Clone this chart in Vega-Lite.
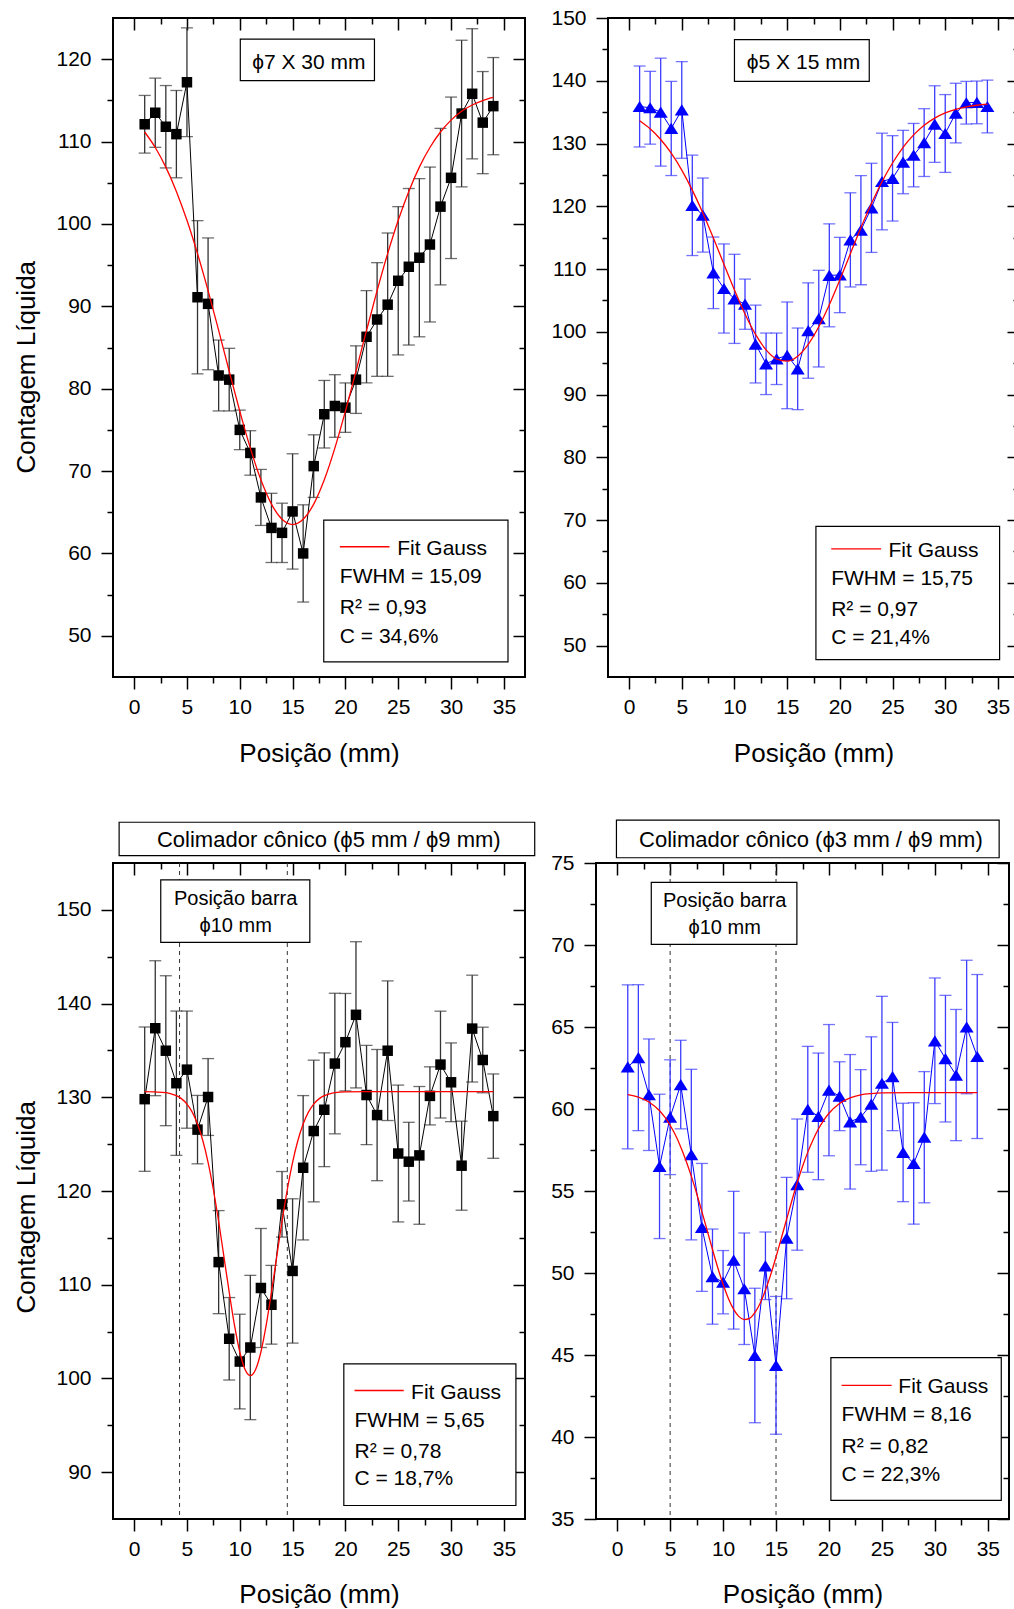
{
  "$schema": "https://vega.github.io/schema/vega-lite/v6.json",
  "padding": {"left": 12, "top": 6, "right": 0, "bottom": 0},
  "background": "white",
  "config": {
    "font": "Liberation Sans",
    "view": {"stroke": "#000", "strokeWidth": 2},
    "axis": {"labelFont": "Liberation Sans", "titleFont": "Liberation Sans", "labelFontSize": 21, "titleFontSize": 26, "titleFontWeight": "normal", "labelColor": "#000", "titleColor": "#000", "tickColor": "#000", "tickWidth": 1.5, "domain": false, "grid": false, "labelFlush": false, "labelOverlap": false},
    "text": {"font": "Liberation Sans"}
  },
  "datasets": {
    "tl": [{"x":1,"y":112.1,"e":3.5},{"x":2,"y":113.5,"e":4.2},{"x":3,"y":111.8,"e":5.0},{"x":4,"y":110.9,"e":5.3},{"x":5,"y":117.2,"e":6.6},{"x":6,"y":91.1,"e":9.3},{"x":7,"y":90.3,"e":8.0},{"x":8,"y":81.6,"e":4.3},{"x":9,"y":81.1,"e":3.8},{"x":10,"y":75.0,"e":2.4},{"x":11,"y":72.2,"e":2.7},{"x":12,"y":66.8,"e":3.4},{"x":13,"y":63.1,"e":4.2},{"x":14,"y":62.5,"e":3.6},{"x":15,"y":65.1,"e":7.0},{"x":16,"y":60.0,"e":5.9},{"x":17,"y":70.6,"e":3.8},{"x":18,"y":76.9,"e":4.1},{"x":19,"y":77.9,"e":3.8},{"x":20,"y":77.7,"e":3.0},{"x":21,"y":81.1,"e":4.1},{"x":22,"y":86.3,"e":5.6},{"x":23,"y":88.4,"e":6.9},{"x":24,"y":90.2,"e":8.7},{"x":25,"y":93.1,"e":9.0},{"x":26,"y":94.8,"e":9.5},{"x":27,"y":95.9,"e":9.6},{"x":28,"y":97.5,"e":9.4},{"x":29,"y":102.1,"e":9.5},{"x":30,"y":105.6,"e":9.8},{"x":31,"y":113.4,"e":8.9},{"x":32,"y":115.8,"e":7.9},{"x":33,"y":112.3,"e":6.2},{"x":34,"y":114.3,"e":5.9}],
    "tl_fit": [{"x":1,"y":111.16},{"x":2,"y":109.28},{"x":3,"y":106.9},{"x":4,"y":103.95},{"x":5,"y":100.44},{"x":6,"y":96.4},{"x":7,"y":91.9},{"x":8,"y":87.07},{"x":9,"y":82.12},{"x":10,"y":77.27},{"x":11,"y":72.78},{"x":12,"y":68.94},{"x":13,"y":65.99},{"x":14,"y":64.14},{"x":15,"y":63.5},{"x":16,"y":64.14},{"x":17,"y":65.99},{"x":18,"y":68.94},{"x":19,"y":72.78},{"x":20,"y":77.27},{"x":21,"y":82.12},{"x":22,"y":87.07},{"x":23,"y":91.9},{"x":24,"y":96.4},{"x":25,"y":100.44},{"x":26,"y":103.95},{"x":27,"y":106.9},{"x":28,"y":109.28},{"x":29,"y":111.16},{"x":30,"y":112.6},{"x":31,"y":113.67},{"x":32,"y":114.44},{"x":33,"y":114.98},{"x":34,"y":115.35}],
    "tl_box": [{"x1":10.05,"x2":22.75,"y1":117.4,"y2":122.43},{"x1":17.95,"x2":35.39,"y1":46.84,"y2":64.05}],
    "tl_leg": [{"x1":19.47,"x2":24.17,"y":60.81}],
    "tl_tc": [{"x":16.54,"y":118.8,"t":"ϕ7 X 30 mm"}],
    "tl_tl": [{"x":24.9,"y":59.8,"t":"Fit Gauss"},{"x":19.47,"y":56.36,"t":"FWHM = 15,09"},{"x":19.47,"y":52.6,"t":"R² = 0,93"},{"x":19.47,"y":49.15,"t":"C = 34,6%"}],
    "tr": [{"x":1,"y":135.9,"e":6.45},{"x":2,"y":135.7,"e":5.8},{"x":3,"y":135.0,"e":8.6},{"x":4,"y":132.4,"e":7.5},{"x":5,"y":135.35,"e":7.7},{"x":6,"y":120.15,"e":8.0},{"x":7,"y":118.6,"e":5.9},{"x":8,"y":109.4,"e":5.7},{"x":9,"y":106.9,"e":7.1},{"x":10,"y":105.25,"e":7.1},{"x":11,"y":104.4,"e":4.0},{"x":12,"y":98.05,"e":6.2},{"x":13,"y":94.9,"e":4.9},{"x":14,"y":95.7,"e":4.1},{"x":15,"y":96.25,"e":8.5},{"x":16,"y":94.1,"e":6.5},{"x":17,"y":100.2,"e":7.6},{"x":18,"y":102.1,"e":7.7},{"x":19,"y":109.0,"e":8.2},{"x":20,"y":109.05,"e":6.0},{"x":21,"y":114.65,"e":7.5},{"x":22,"y":116.2,"e":8.7},{"x":23,"y":119.75,"e":7.1},{"x":24,"y":123.95,"e":7.7},{"x":25,"y":124.45,"e":6.8},{"x":26,"y":127.05,"e":5.05},{"x":27,"y":128.15,"e":5.05},{"x":28,"y":130.15,"e":5.4},{"x":29,"y":133.1,"e":6.1},{"x":30,"y":131.6,"e":6.2},{"x":31,"y":134.85,"e":4.75},{"x":32,"y":136.5,"e":3.4},{"x":33,"y":136.55,"e":3.4},{"x":34,"y":135.9,"e":4.2}],
    "tr_fit": [{"x":1,"y":133.64},{"x":2,"y":132.35},{"x":3,"y":130.64},{"x":4,"y":128.46},{"x":5,"y":125.77},{"x":6,"y":122.57},{"x":7,"y":118.93},{"x":8,"y":114.94},{"x":9,"y":110.78},{"x":10,"y":106.66},{"x":11,"y":102.84},{"x":12,"y":99.58},{"x":13,"y":97.13},{"x":14,"y":95.67},{"x":15,"y":95.32},{"x":16,"y":96.12},{"x":17,"y":98.0},{"x":18,"y":100.8},{"x":19,"y":104.32},{"x":20,"y":108.29},{"x":21,"y":112.45},{"x":22,"y":116.57},{"x":23,"y":120.43},{"x":24,"y":123.91},{"x":25,"y":126.9},{"x":26,"y":129.39},{"x":27,"y":131.37},{"x":28,"y":132.91},{"x":29,"y":134.05},{"x":30,"y":134.88},{"x":31,"y":135.46},{"x":32,"y":135.85},{"x":33,"y":136.1},{"x":34,"y":136.27}],
    "tr_box": [{"x1":10.0,"x2":22.79,"y1":139.9,"y2":146.54},{"x1":17.73,"x2":35.16,"y1":47.77,"y2":69.0}],
    "tr_leg": [{"x1":19.18,"x2":23.92,"y":65.41}],
    "tr_tc": [{"x":16.55,"y":141.87,"t":"ϕ5 X 15 mm"}],
    "tr_tl": [{"x":24.62,"y":64.13,"t":"Fit Gauss"},{"x":19.18,"y":59.67,"t":"FWHM = 15,75"},{"x":19.18,"y":54.67,"t":"R² = 0,97"},{"x":19.18,"y":50.27,"t":"C = 21,4%"}],
    "bl": [{"x":1,"y":129.8,"e":7.7},{"x":2,"y":137.37,"e":7.2},{"x":3,"y":134.97,"e":8.0},{"x":4,"y":131.5,"e":7.7},{"x":5,"y":132.95,"e":6.25},{"x":6,"y":126.55,"e":3.65},{"x":7,"y":130.03,"e":4.1},{"x":8,"y":112.41,"e":5.5},{"x":9,"y":104.23,"e":4.4},{"x":10,"y":101.8,"e":5.05},{"x":11,"y":103.3,"e":7.7},{"x":12,"y":109.65,"e":6.35},{"x":13,"y":107.86,"e":4.2},{"x":14,"y":118.58,"e":3.5},{"x":15,"y":111.47,"e":7.7},{"x":16,"y":122.48,"e":7.7},{"x":17,"y":126.4,"e":7.56},{"x":18,"y":128.67,"e":6.07},{"x":19,"y":133.6,"e":7.5},{"x":20,"y":135.88,"e":5.2},{"x":21,"y":138.8,"e":7.8},{"x":22,"y":130.24,"e":5.3},{"x":23,"y":128.1,"e":7.0},{"x":24,"y":134.97,"e":7.45},{"x":25,"y":124.0,"e":7.3},{"x":26,"y":123.13,"e":4.2},{"x":27,"y":123.8,"e":7.35},{"x":28,"y":130.15,"e":3.1},{"x":29,"y":133.49,"e":5.7},{"x":30,"y":131.6,"e":4.2},{"x":31,"y":122.7,"e":4.75},{"x":32,"y":137.33,"e":5.7},{"x":33,"y":133.98,"e":3.5},{"x":34,"y":127.99,"e":4.5}],
    "bl_fit": [{"x":1,"y":130.6},{"x":2,"y":130.57},{"x":3,"y":130.49},{"x":3.5,"y":130.37},{"x":4,"y":130.17},{"x":4.5,"y":129.83},{"x":5,"y":129.28},{"x":5.5,"y":128.42},{"x":6,"y":127.15},{"x":6.5,"y":125.39},{"x":7,"y":123.06},{"x":7.5,"y":120.16},{"x":8,"y":116.75},{"x":8.5,"y":113.0},{"x":9,"y":109.2},{"x":9.5,"y":105.68},{"x":10,"y":102.82},{"x":10.5,"y":100.95},{"x":11,"y":100.3},{"x":11.5,"y":100.95},{"x":12,"y":102.82},{"x":12.5,"y":105.68},{"x":13,"y":109.2},{"x":13.5,"y":113.0},{"x":14,"y":116.75},{"x":14.5,"y":120.16},{"x":15,"y":123.06},{"x":15.5,"y":125.39},{"x":16,"y":127.15},{"x":16.5,"y":128.42},{"x":17,"y":129.28},{"x":17.5,"y":129.83},{"x":18,"y":130.17},{"x":18.5,"y":130.37},{"x":19,"y":130.49},{"x":20,"y":130.57},{"x":22,"y":130.6},{"x":26,"y":130.6},{"x":30,"y":130.6},{"x":34,"y":130.6}],
    "bl_dash": [{"x":4.3},{"x":14.5}],
    "bl_box": [{"x1":-1.42,"x2":37.92,"y1":155.79,"y2":159.35},{"x1":2.52,"x2":16.63,"y1":146.54,"y2":153.2},{"x1":19.85,"x2":36.14,"y1":86.44,"y2":101.56}],
    "bl_leg": [{"x1":20.86,"x2":25.52,"y":98.71}],
    "bl_title": [{"x":18.43,"y":156.68,"t":"Colimador cônico (ϕ5 mm / ϕ9 mm)"}],
    "bl_tc": [{"x":9.61,"y":150.57,"t":"Posição barra"},{"x":9.61,"y":147.61,"t":"ϕ10 mm"}],
    "bl_tl": [{"x":26.22,"y":97.83,"t":"Fit Gauss"},{"x":20.86,"y":94.87,"t":"FWHM = 5,65"},{"x":20.86,"y":91.53,"t":"R² = 0,78"},{"x":20.86,"y":88.58,"t":"C = 18,7%"}],
    "br": [{"x":1,"y":62.57,"e":5.0},{"x":2,"y":63.13,"e":4.45},{"x":3,"y":60.87,"e":3.4},{"x":4,"y":56.5,"e":4.4},{"x":5,"y":59.5,"e":3.5},{"x":6,"y":61.49,"e":2.7},{"x":7,"y":57.22,"e":5.2},{"x":8,"y":52.78,"e":3.9},{"x":9,"y":49.78,"e":2.9},{"x":10,"y":49.44,"e":1.93},{"x":11,"y":50.78,"e":4.2},{"x":12,"y":49.04,"e":3.4},{"x":13,"y":44.97,"e":4.1},{"x":14,"y":50.44,"e":2.06},{"x":15,"y":44.37,"e":4.2},{"x":16,"y":52.13,"e":3.7},{"x":17,"y":55.39,"e":4.0},{"x":18,"y":59.98,"e":3.84},{"x":19,"y":59.55,"e":3.86},{"x":20,"y":61.15,"e":4.0},{"x":21,"y":60.78,"e":2.1},{"x":22,"y":59.22,"e":4.1},{"x":23,"y":59.5,"e":2.9},{"x":24,"y":60.3,"e":4.1},{"x":25,"y":61.57,"e":5.3},{"x":26,"y":61.98,"e":3.3},{"x":27,"y":57.35,"e":3.0},{"x":28,"y":56.68,"e":3.7},{"x":29,"y":58.28,"e":4.0},{"x":30,"y":64.16,"e":3.83},{"x":31,"y":63.07,"e":3.86},{"x":32,"y":62.07,"e":4.0},{"x":33,"y":65.0,"e":4.07},{"x":34,"y":63.2,"e":5.0}],
    "br_fit": [{"x":1,"y":60.88},{"x":2,"y":60.73},{"x":3,"y":60.43},{"x":4,"y":59.89},{"x":4.5,"y":59.5},{"x":5,"y":59.01},{"x":5.5,"y":58.41},{"x":6,"y":57.69},{"x":6.5,"y":56.85},{"x":7,"y":55.91},{"x":7.5,"y":54.86},{"x":8,"y":53.74},{"x":8.5,"y":52.59},{"x":9,"y":51.43},{"x":9.5,"y":50.32},{"x":10,"y":49.31},{"x":10.5,"y":48.45},{"x":11,"y":47.78},{"x":11.5,"y":47.34},{"x":12,"y":47.16},{"x":12.5,"y":47.23},{"x":13,"y":47.58},{"x":13.5,"y":48.16},{"x":14,"y":48.95},{"x":14.5,"y":49.9},{"x":15,"y":50.98},{"x":15.5,"y":52.12},{"x":16,"y":53.28},{"x":16.5,"y":54.42},{"x":17,"y":55.5},{"x":17.5,"y":56.49},{"x":18,"y":57.37},{"x":18.5,"y":58.13},{"x":19,"y":58.78},{"x":19.5,"y":59.31},{"x":20,"y":59.74},{"x":21,"y":60.34},{"x":22,"y":60.68},{"x":23,"y":60.86},{"x":24,"y":60.94},{"x":25,"y":60.98},{"x":28,"y":61.0},{"x":31,"y":61.0},{"x":34,"y":61.0}],
    "br_dash": [{"x":5},{"x":15}],
    "br_box": [{"x1":-0.07,"x2":36.07,"y1":75.32,"y2":77.62},{"x1":3.22,"x2":16.97,"y1":70.04,"y2":73.82},{"x1":20.18,"x2":36.27,"y1":36.14,"y2":44.84}],
    "br_leg": [{"x1":21.19,"x2":25.92,"y":43.15}],
    "br_title": [{"x":18.29,"y":75.98,"t":"Colimador cônico (ϕ3 mm / ϕ9 mm)"}],
    "br_tc": [{"x":10.15,"y":72.32,"t":"Posição barra"},{"x":10.15,"y":70.65,"t":"ϕ10 mm"}],
    "br_tl": [{"x":26.55,"y":42.7,"t":"Fit Gauss"},{"x":21.19,"y":40.98,"t":"FWHM = 8,16"},{"x":21.19,"y":39.04,"t":"R² = 0,82"},{"x":21.19,"y":37.32,"t":"C = 22,3%"}]
  },
  "spacing": 51,
  "vconcat": [
    {
      "hconcat": [
        {
          "width": 412, "height": 659,
          "resolve": {"axis": {"x": "independent", "y": "independent"}},
          "layer": [
            {"data": {"name": "tl_box"}, "mark": {"type": "rect", "fill": "#fff", "stroke": "#000", "strokeWidth": 1.2},
             "encoding": {"x": {"field": "x1", "type": "quantitative", "scale": {"domain": [-2, 37], "nice": false, "zero": false}, "axis": {"orient": "top", "values": [2.5,7.5,12.5,17.5,22.5,27.5,32.5], "tickSize": -6, "labels": false, "title": null}},
                          "x2": {"field": "x2"},
                          "y": {"field": "y1", "type": "quantitative", "scale": {"domain": [45, 125], "nice": false, "zero": false}, "axis": {"orient": "right", "values": [55,65,75,85,95,105,115], "tickSize": -6, "labels": false, "title": null}},
                          "y2": {"field": "y2"}}},
            {"data": {"name": "tl"}, "mark": {"type": "errorbar", "orient": "vertical", "ticks": true, "size": 12, "thickness": 1.3, "color": "#333"},
             "encoding": {"x": {"field": "x", "type": "quantitative", "scale": {"domain": [-2, 37], "nice": false, "zero": false}, "axis": null},
                          "y": {"field": "y", "type": "quantitative", "scale": {"domain": [45, 125], "nice": false, "zero": false}, "axis": null},
                          "yError": {"field": "e"}}},
            {"data": {"name": "tl"}, "mark": {"type": "line", "color": "#000", "strokeWidth": 1},
             "encoding": {"x": {"field": "x", "type": "quantitative", "scale": {"domain": [-2, 37], "nice": false, "zero": false}, "axis": {"orient": "bottom", "values": [0,5,10,15,20,25,30,35], "tickSize": 12, "labelPadding": 7, "title": "Posição (mm)", "titleY": 84, "titleBaseline": "alphabetic"}},
                          "y": {"field": "y", "type": "quantitative", "scale": {"domain": [45, 125], "nice": false, "zero": false}, "axis": {"orient": "left", "values": [50,60,70,80,90,100,110,120], "tickSize": 12, "labelPadding": 10, "title": "Contagem Líquida", "titleX": -79, "titleY": 348.7, "titleAngle": -90, "titleBaseline": "alphabetic", "titleAlign": "center"}}}},
            {"data": {"name": "tl"}, "mark": {"type": "point", "shape": "square", "filled": true, "color": "#000", "size": 110, "opacity": 1},
             "encoding": {"x": {"field": "x", "type": "quantitative", "scale": {"domain": [-2, 37], "nice": false, "zero": false}, "axis": {"orient": "bottom", "values": [2.5,7.5,12.5,17.5,22.5,27.5,32.5], "tickSize": 6, "labels": false, "title": null}},
                          "y": {"field": "y", "type": "quantitative", "scale": {"domain": [45, 125], "nice": false, "zero": false}, "axis": {"orient": "left", "values": [55,65,75,85,95,105,115], "tickSize": 6, "labels": false, "title": null}}}},
            {"data": {"name": "tl_fit"}, "mark": {"type": "line", "color": "#ff0000", "strokeWidth": 1.3, "interpolate": "monotone"},
             "encoding": {"x": {"field": "x", "type": "quantitative", "scale": {"domain": [-2, 37], "nice": false, "zero": false}, "axis": {"orient": "top", "values": [0,5,10,15,20,25,30,35], "tickSize": -12, "labels": false, "title": null}},
                          "y": {"field": "y", "type": "quantitative", "scale": {"domain": [45, 125], "nice": false, "zero": false}, "axis": {"orient": "right", "values": [50,60,70,80,90,100,110,120], "tickSize": -12, "labels": false, "title": null}}}},
            {"data": {"name": "tl_leg"}, "mark": {"type": "rule", "color": "#ff0000", "strokeWidth": 1.3},
             "encoding": {"x": {"field": "x1", "type": "quantitative", "scale": {"domain": [-2, 37], "nice": false, "zero": false}, "axis": null}, "x2": {"field": "x2"},
                          "y": {"field": "y", "type": "quantitative", "scale": {"domain": [45, 125], "nice": false, "zero": false}, "axis": null}}},
            {"data": {"name": "tl_tc"}, "mark": {"type": "text", "align": "center", "baseline": "alphabetic", "fontSize": 21, "color": "#000"},
             "encoding": {"x": {"field": "x", "type": "quantitative", "scale": {"domain": [-2, 37], "nice": false, "zero": false}, "axis": null},
                          "y": {"field": "y", "type": "quantitative", "scale": {"domain": [45, 125], "nice": false, "zero": false}, "axis": null},
                          "text": {"field": "t"}}},
            {"data": {"name": "tl_tl"}, "mark": {"type": "text", "align": "left", "baseline": "alphabetic", "fontSize": 21, "color": "#000"},
             "encoding": {"x": {"field": "x", "type": "quantitative", "scale": {"domain": [-2, 37], "nice": false, "zero": false}, "axis": null},
                          "y": {"field": "y", "type": "quantitative", "scale": {"domain": [45, 125], "nice": false, "zero": false}, "axis": null},
                          "text": {"field": "t"}}}
          ]
        },
        {
          "width": 411, "height": 659,
          "resolve": {"axis": {"x": "independent", "y": "independent"}},
          "layer": [
            {"data": {"name": "tr_box"}, "mark": {"type": "rect", "fill": "#fff", "stroke": "#000", "strokeWidth": 1.2},
             "encoding": {"x": {"field": "x1", "type": "quantitative", "scale": {"domain": [-2, 37], "nice": false, "zero": false}, "axis": {"orient": "top", "values": [2.5,7.5,12.5,17.5,22.5,27.5,32.5], "tickSize": -6, "labels": false, "title": null}},
                          "x2": {"field": "x2"},
                          "y": {"field": "y1", "type": "quantitative", "scale": {"domain": [45, 150], "nice": false, "zero": false}, "axis": {"orient": "right", "values": [55,65,75,85,95,105,115,125,135,145], "tickSize": -6, "labels": false, "title": null}},
                          "y2": {"field": "y2"}}},
            {"data": {"name": "tr"}, "mark": {"type": "errorbar", "orient": "vertical", "ticks": true, "size": 12, "thickness": 1.3, "color": "#3c3cff"},
             "encoding": {"x": {"field": "x", "type": "quantitative", "scale": {"domain": [-2, 37], "nice": false, "zero": false}, "axis": null},
                          "y": {"field": "y", "type": "quantitative", "scale": {"domain": [45, 150], "nice": false, "zero": false}, "axis": null},
                          "yError": {"field": "e"}}},
            {"data": {"name": "tr"}, "mark": {"type": "line", "color": "#0000ff", "strokeWidth": 1},
             "encoding": {"x": {"field": "x", "type": "quantitative", "scale": {"domain": [-2, 37], "nice": false, "zero": false}, "axis": {"orient": "bottom", "values": [0,5,10,15,20,25,30,35], "tickSize": 12, "labelPadding": 7, "title": "Posição (mm)", "titleY": 84, "titleBaseline": "alphabetic"}},
                          "y": {"field": "y", "type": "quantitative", "scale": {"domain": [45, 150], "nice": false, "zero": false}, "axis": {"orient": "left", "values": [50,60,70,80,90,100,110,120,130,140,150], "tickSize": 12, "labelPadding": 10, "title": null}}}},
            {"data": {"name": "tr"}, "mark": {"type": "point", "shape": "M0,-0.8L1,0.8L-1,0.8Z", "filled": true, "color": "#0000ff", "size": 196, "opacity": 1},
             "encoding": {"x": {"field": "x", "type": "quantitative", "scale": {"domain": [-2, 37], "nice": false, "zero": false}, "axis": {"orient": "bottom", "values": [2.5,7.5,12.5,17.5,22.5,27.5,32.5], "tickSize": 6, "labels": false, "title": null}},
                          "y": {"field": "y", "type": "quantitative", "scale": {"domain": [45, 150], "nice": false, "zero": false}, "axis": {"orient": "left", "values": [55,65,75,85,95,105,115,125,135,145], "tickSize": 6, "labels": false, "title": null}}}},
            {"data": {"name": "tr_fit"}, "mark": {"type": "line", "color": "#ff0000", "strokeWidth": 1.3, "interpolate": "monotone"},
             "encoding": {"x": {"field": "x", "type": "quantitative", "scale": {"domain": [-2, 37], "nice": false, "zero": false}, "axis": {"orient": "top", "values": [0,5,10,15,20,25,30,35], "tickSize": -12, "labels": false, "title": null}},
                          "y": {"field": "y", "type": "quantitative", "scale": {"domain": [45, 150], "nice": false, "zero": false}, "axis": {"orient": "right", "values": [50,60,70,80,90,100,110,120,130,140,150], "tickSize": -12, "labels": false, "title": null}}}},
            {"data": {"name": "tr_leg"}, "mark": {"type": "rule", "color": "#ff0000", "strokeWidth": 1.3},
             "encoding": {"x": {"field": "x1", "type": "quantitative", "scale": {"domain": [-2, 37], "nice": false, "zero": false}, "axis": null}, "x2": {"field": "x2"},
                          "y": {"field": "y", "type": "quantitative", "scale": {"domain": [45, 150], "nice": false, "zero": false}, "axis": null}}},
            {"data": {"name": "tr_tc"}, "mark": {"type": "text", "align": "center", "baseline": "alphabetic", "fontSize": 21, "color": "#000"},
             "encoding": {"x": {"field": "x", "type": "quantitative", "scale": {"domain": [-2, 37], "nice": false, "zero": false}, "axis": null},
                          "y": {"field": "y", "type": "quantitative", "scale": {"domain": [45, 150], "nice": false, "zero": false}, "axis": null},
                          "text": {"field": "t"}}},
            {"data": {"name": "tr_tl"}, "mark": {"type": "text", "align": "left", "baseline": "alphabetic", "fontSize": 21, "color": "#000"},
             "encoding": {"x": {"field": "x", "type": "quantitative", "scale": {"domain": [-2, 37], "nice": false, "zero": false}, "axis": null},
                          "y": {"field": "y", "type": "quantitative", "scale": {"domain": [45, 150], "nice": false, "zero": false}, "axis": null},
                          "text": {"field": "t"}}}
          ]
        }
      ],
      "spacing": 83,
      "bounds": "flush"
    },
    {
      "hconcat": [
        {
          "width": 412, "height": 656,
          "resolve": {"axis": {"x": "independent", "y": "independent"}},
          "layer": [
            {"data": {"name": "bl_dash"}, "mark": {"type": "rule", "strokeDash": [4, 4], "color": "#333", "strokeWidth": 1},
             "encoding": {"x": {"field": "x", "type": "quantitative", "scale": {"domain": [-2, 37], "nice": false, "zero": false}, "axis": null}}},
            {"data": {"name": "bl_box"}, "mark": {"type": "rect", "fill": "#fff", "stroke": "#000", "strokeWidth": 1.2},
             "encoding": {"x": {"field": "x1", "type": "quantitative", "scale": {"domain": [-2, 37], "nice": false, "zero": false}, "axis": {"orient": "top", "values": [2.5,7.5,12.5,17.5,22.5,27.5,32.5], "tickSize": -6, "labels": false, "title": null}},
                          "x2": {"field": "x2"},
                          "y": {"field": "y1", "type": "quantitative", "scale": {"domain": [85, 155], "nice": false, "zero": false}, "axis": {"orient": "right", "values": [95,105,115,125,135,145], "tickSize": -6, "labels": false, "title": null}},
                          "y2": {"field": "y2"}}},
            {"data": {"name": "bl"}, "mark": {"type": "errorbar", "orient": "vertical", "ticks": true, "size": 12, "thickness": 1.3, "color": "#333"},
             "encoding": {"x": {"field": "x", "type": "quantitative", "scale": {"domain": [-2, 37], "nice": false, "zero": false}, "axis": null},
                          "y": {"field": "y", "type": "quantitative", "scale": {"domain": [85, 155], "nice": false, "zero": false}, "axis": null},
                          "yError": {"field": "e"}}},
            {"data": {"name": "bl"}, "mark": {"type": "line", "color": "#000", "strokeWidth": 1},
             "encoding": {"x": {"field": "x", "type": "quantitative", "scale": {"domain": [-2, 37], "nice": false, "zero": false}, "axis": {"orient": "bottom", "values": [0,5,10,15,20,25,30,35], "tickSize": 12, "labelPadding": 7, "title": "Posição (mm)", "titleY": 83.5, "titleBaseline": "alphabetic"}},
                          "y": {"field": "y", "type": "quantitative", "scale": {"domain": [85, 155], "nice": false, "zero": false}, "axis": {"orient": "left", "values": [90,100,110,120,130,140,150], "tickSize": 12, "labelPadding": 10, "title": "Contagem Líquida", "titleX": -79, "titleY": 343.8, "titleAngle": -90, "titleBaseline": "alphabetic", "titleAlign": "center"}}}},
            {"data": {"name": "bl"}, "mark": {"type": "point", "shape": "square", "filled": true, "color": "#000", "size": 110, "opacity": 1},
             "encoding": {"x": {"field": "x", "type": "quantitative", "scale": {"domain": [-2, 37], "nice": false, "zero": false}, "axis": {"orient": "bottom", "values": [2.5,7.5,12.5,17.5,22.5,27.5,32.5], "tickSize": 6, "labels": false, "title": null}},
                          "y": {"field": "y", "type": "quantitative", "scale": {"domain": [85, 155], "nice": false, "zero": false}, "axis": {"orient": "left", "values": [95,105,115,125,135,145], "tickSize": 6, "labels": false, "title": null}}}},
            {"data": {"name": "bl_fit"}, "mark": {"type": "line", "color": "#ff0000", "strokeWidth": 1.3, "interpolate": "monotone"},
             "encoding": {"x": {"field": "x", "type": "quantitative", "scale": {"domain": [-2, 37], "nice": false, "zero": false}, "axis": {"orient": "top", "values": [0,5,10,15,20,25,30,35], "tickSize": -12, "labels": false, "title": null}},
                          "y": {"field": "y", "type": "quantitative", "scale": {"domain": [85, 155], "nice": false, "zero": false}, "axis": {"orient": "right", "values": [90,100,110,120,130,140,150], "tickSize": -12, "labels": false, "title": null}}}},
            {"data": {"name": "bl_leg"}, "mark": {"type": "rule", "color": "#ff0000", "strokeWidth": 1.3},
             "encoding": {"x": {"field": "x1", "type": "quantitative", "scale": {"domain": [-2, 37], "nice": false, "zero": false}, "axis": null}, "x2": {"field": "x2"},
                          "y": {"field": "y", "type": "quantitative", "scale": {"domain": [85, 155], "nice": false, "zero": false}, "axis": null}}},
            {"data": {"name": "bl_title"}, "mark": {"type": "text", "align": "center", "baseline": "alphabetic", "fontSize": 22, "color": "#000"},
             "encoding": {"x": {"field": "x", "type": "quantitative", "scale": {"domain": [-2, 37], "nice": false, "zero": false}, "axis": null},
                          "y": {"field": "y", "type": "quantitative", "scale": {"domain": [85, 155], "nice": false, "zero": false}, "axis": null},
                          "text": {"field": "t"}}},
            {"data": {"name": "bl_tc"}, "mark": {"type": "text", "align": "center", "baseline": "alphabetic", "fontSize": 20, "color": "#000"},
             "encoding": {"x": {"field": "x", "type": "quantitative", "scale": {"domain": [-2, 37], "nice": false, "zero": false}, "axis": null},
                          "y": {"field": "y", "type": "quantitative", "scale": {"domain": [85, 155], "nice": false, "zero": false}, "axis": null},
                          "text": {"field": "t"}}},
            {"data": {"name": "bl_tl"}, "mark": {"type": "text", "align": "left", "baseline": "alphabetic", "fontSize": 21, "color": "#000"},
             "encoding": {"x": {"field": "x", "type": "quantitative", "scale": {"domain": [-2, 37], "nice": false, "zero": false}, "axis": null},
                          "y": {"field": "y", "type": "quantitative", "scale": {"domain": [85, 155], "nice": false, "zero": false}, "axis": null},
                          "text": {"field": "t"}}}
          ]
        },
        {
          "width": 413, "height": 656,
          "resolve": {"axis": {"x": "independent", "y": "independent"}},
          "layer": [
            {"data": {"name": "br_dash"}, "mark": {"type": "rule", "strokeDash": [4, 4], "color": "#333", "strokeWidth": 1},
             "encoding": {"x": {"field": "x", "type": "quantitative", "scale": {"domain": [-2, 37], "nice": false, "zero": false}, "axis": null}}},
            {"data": {"name": "br_box"}, "mark": {"type": "rect", "fill": "#fff", "stroke": "#000", "strokeWidth": 1.2},
             "encoding": {"x": {"field": "x1", "type": "quantitative", "scale": {"domain": [-2, 37], "nice": false, "zero": false}, "axis": {"orient": "top", "values": [2.5,7.5,12.5,17.5,22.5,27.5,32.5], "tickSize": -6, "labels": false, "title": null}},
                          "x2": {"field": "x2"},
                          "y": {"field": "y1", "type": "quantitative", "scale": {"domain": [35, 75], "nice": false, "zero": false}, "axis": {"orient": "right", "values": [37.5,42.5,47.5,52.5,57.5,62.5,67.5,72.5], "tickSize": -6, "labels": false, "title": null}},
                          "y2": {"field": "y2"}}},
            {"data": {"name": "br"}, "mark": {"type": "errorbar", "orient": "vertical", "ticks": true, "size": 12, "thickness": 1.3, "color": "#3c3cff"},
             "encoding": {"x": {"field": "x", "type": "quantitative", "scale": {"domain": [-2, 37], "nice": false, "zero": false}, "axis": null},
                          "y": {"field": "y", "type": "quantitative", "scale": {"domain": [35, 75], "nice": false, "zero": false}, "axis": null},
                          "yError": {"field": "e"}}},
            {"data": {"name": "br"}, "mark": {"type": "line", "color": "#0000ff", "strokeWidth": 1},
             "encoding": {"x": {"field": "x", "type": "quantitative", "scale": {"domain": [-2, 37], "nice": false, "zero": false}, "axis": {"orient": "bottom", "values": [0,5,10,15,20,25,30,35], "tickSize": 12, "labelPadding": 7, "title": "Posição (mm)", "titleY": 83.5, "titleBaseline": "alphabetic"}},
                          "y": {"field": "y", "type": "quantitative", "scale": {"domain": [35, 75], "nice": false, "zero": false}, "axis": {"orient": "left", "values": [35,40,45,50,55,60,65,70,75], "tickSize": 12, "labelPadding": 10, "title": null}}}},
            {"data": {"name": "br"}, "mark": {"type": "point", "shape": "M0,-0.8L1,0.8L-1,0.8Z", "filled": true, "color": "#0000ff", "size": 196, "opacity": 1},
             "encoding": {"x": {"field": "x", "type": "quantitative", "scale": {"domain": [-2, 37], "nice": false, "zero": false}, "axis": {"orient": "bottom", "values": [2.5,7.5,12.5,17.5,22.5,27.5,32.5], "tickSize": 6, "labels": false, "title": null}},
                          "y": {"field": "y", "type": "quantitative", "scale": {"domain": [35, 75], "nice": false, "zero": false}, "axis": {"orient": "left", "values": [37.5,42.5,47.5,52.5,57.5,62.5,67.5,72.5], "tickSize": 6, "labels": false, "title": null}}}},
            {"data": {"name": "br_fit"}, "mark": {"type": "line", "color": "#ff0000", "strokeWidth": 1.3, "interpolate": "monotone"},
             "encoding": {"x": {"field": "x", "type": "quantitative", "scale": {"domain": [-2, 37], "nice": false, "zero": false}, "axis": {"orient": "top", "values": [0,5,10,15,20,25,30,35], "tickSize": -12, "labels": false, "title": null}},
                          "y": {"field": "y", "type": "quantitative", "scale": {"domain": [35, 75], "nice": false, "zero": false}, "axis": {"orient": "right", "values": [35,40,45,50,55,60,65,70,75], "tickSize": -12, "labels": false, "title": null}}}},
            {"data": {"name": "br_leg"}, "mark": {"type": "rule", "color": "#ff0000", "strokeWidth": 1.3},
             "encoding": {"x": {"field": "x1", "type": "quantitative", "scale": {"domain": [-2, 37], "nice": false, "zero": false}, "axis": null}, "x2": {"field": "x2"},
                          "y": {"field": "y", "type": "quantitative", "scale": {"domain": [35, 75], "nice": false, "zero": false}, "axis": null}}},
            {"data": {"name": "br_title"}, "mark": {"type": "text", "align": "center", "baseline": "alphabetic", "fontSize": 22, "color": "#000"},
             "encoding": {"x": {"field": "x", "type": "quantitative", "scale": {"domain": [-2, 37], "nice": false, "zero": false}, "axis": null},
                          "y": {"field": "y", "type": "quantitative", "scale": {"domain": [35, 75], "nice": false, "zero": false}, "axis": null},
                          "text": {"field": "t"}}},
            {"data": {"name": "br_tc"}, "mark": {"type": "text", "align": "center", "baseline": "alphabetic", "fontSize": 20, "color": "#000"},
             "encoding": {"x": {"field": "x", "type": "quantitative", "scale": {"domain": [-2, 37], "nice": false, "zero": false}, "axis": null},
                          "y": {"field": "y", "type": "quantitative", "scale": {"domain": [35, 75], "nice": false, "zero": false}, "axis": null},
                          "text": {"field": "t"}}},
            {"data": {"name": "br_tl"}, "mark": {"type": "text", "align": "left", "baseline": "alphabetic", "fontSize": 21, "color": "#000"},
             "encoding": {"x": {"field": "x", "type": "quantitative", "scale": {"domain": [-2, 37], "nice": false, "zero": false}, "axis": null},
                          "y": {"field": "y", "type": "quantitative", "scale": {"domain": [35, 75], "nice": false, "zero": false}, "axis": null},
                          "text": {"field": "t"}}}
          ]
        }
      ],
      "spacing": 71,
      "bounds": "flush"
    }
  ]
}
